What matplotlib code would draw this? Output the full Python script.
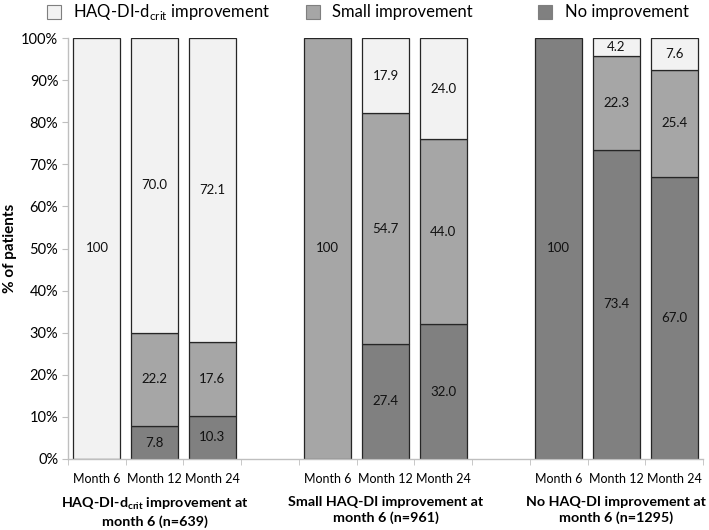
import matplotlib
matplotlib.use("Agg")
import matplotlib.pyplot as plt
from matplotlib.patches import Rectangle
import numpy as np

plt.rcParams['font.family'] = ['Lato', 'DejaVu Sans']

positions = [0, 1, 2, 4, 5, 6, 8, 9, 10]
tick_labels = ["Month 6", "Month 12", "Month 24"] * 3
no_impr = [0, 7.8, 10.3, 0, 27.4, 32.0, 100, 73.4, 67.0]
small_impr = [0, 22.2, 17.6, 100, 54.7, 44.0, 0, 22.3, 25.4]
crit_impr = [100, 70.0, 72.1, 0, 17.9, 24.0, 0, 4.2, 7.6]
series_names = ["HAQ-DI-d$_{\\mathregular{crit}}$ improvement", "Small improvement", "No improvement"]
group_labels = ["HAQ-DI-d$_{\\mathregular{crit}}$ improvement at\nmonth 6 (n=639)",
                "Small HAQ-DI improvement at\nmonth 6 (n=961)",
                "No HAQ-DI improvement at\nmonth 6 (n=1295)"]
group_centers = [1, 5, 9]

c_light = "#f2f2f2"
c_mid = "#a6a6a6"
c_dark = "#808080"
edge = "#262626"

W, H = 709, 530
fig = plt.figure(figsize=(7.09, 5.30), dpi=100)
ax = fig.add_axes([68 / W, 1 - 459 / H, (703 - 68) / W, (459 - 38) / H])

w = 0.81
pos = np.array(positions)
no_a = np.array(no_impr)
sm_a = np.array(small_impr)
cr_a = np.array(crit_impr)

def draw(vals, bottom, color):
    for x, v, b in zip(pos, vals, bottom):
        if v > 0:
            ax.bar(x, v, w, bottom=b, color=color, edgecolor=edge, linewidth=0.9)

draw(no_a, np.zeros_like(no_a), c_dark)
draw(sm_a, no_a, c_mid)
draw(cr_a, no_a + sm_a, c_light)

def fmt(v):
    return "100" if v == 100 else f"{v:.1f}"

for x, n, s, c in zip(pos, no_a, sm_a, cr_a):
    for v, b in ((n, 0), (s, n), (c, n + s)):
        if v > 0:
            ax.text(x, b + v / 2, fmt(v), ha="center", va="center", fontsize=9.5, color="#111111")

ax.set_xlim(-0.5, 10.5)
ax.set_ylim(0, 100)
ax.set_yticks(np.arange(0, 101, 10))
ax.set_yticklabels([f"{int(t)}%" for t in np.arange(0, 101, 10)], fontsize=10.5)
ax.set_xticks(positions)
ax.set_xticklabels(tick_labels, fontsize=9)
ax.set_xticks(np.arange(-0.5, 10.6, 1), minor=True)
ax.tick_params(axis="x", which="major", length=0, pad=10)
ax.tick_params(axis="x", which="minor", length=4, color="#bfbfbf", direction="out")
ax.tick_params(axis="y", length=4, color="#bfbfbf", direction="out", pad=3)
for s in ("top", "right"):
    ax.spines[s].set_visible(False)
for s in ("left", "bottom"):
    ax.spines[s].set_color("#bfbfbf")
    ax.spines[s].set_linewidth(1.0)

fig.text(10 / W, 1 - 248 / H, "% of patients", rotation=90, ha="center", va="center",
         fontsize=11, fontweight="bold")

for gx, gl in zip(group_centers, group_labels):
    xf = ax.transData.transform((gx, 0))[0] / W
    fig.text(xf, 1 - 496 / H, gl, ha="center", va="top", fontsize=10.3, fontweight="bold",
             linespacing=1.3)

# legend (manual layout)
leg_colors = [c_light, c_mid, c_dark]
patch_x = [47, 306, 538]
text_x = [73, 332, 565]
for px, tx, col, name in zip(patch_x, text_x, leg_colors, series_names):
    fig.patches.append(Rectangle((px / W, 1 - 19 / H), 14 / W, 14 / H, transform=fig.transFigure,
                                 facecolor=col, edgecolor="#7f7f7f", linewidth=0.8))
    fig.text(tx / W, 1 - 12 / H, name, ha="left", va="center", fontsize=12)

fig.savefig("out.png", dpi=100)
